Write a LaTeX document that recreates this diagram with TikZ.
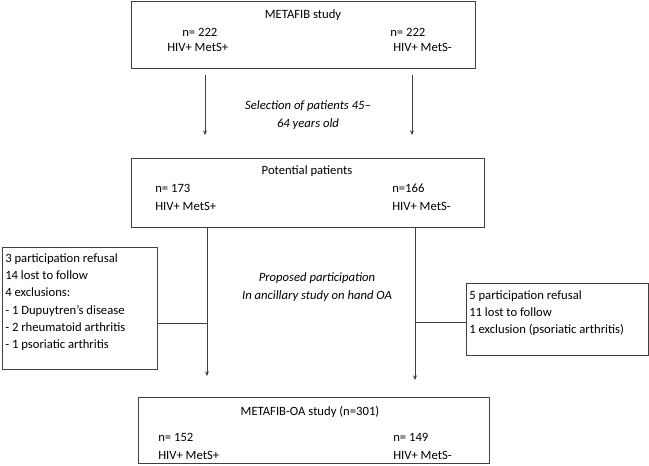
\documentclass[tikz,border=0pt]{standalone}
\usepackage{fontspec}
\setmainfont{Carlito}
\usetikzlibrary{fit,arrows.meta}
\begin{document}
\begin{tikzpicture}[x=0.75pt,y=-0.75pt,
    frame/.style ={draw=black!75, line width=0.75pt, inner sep=0pt},
    entry/.style ={inner sep=0pt, font=\fontsize{9.5}{13}\selectfont},
    note/.style ={entry, align=center, font=\fontsize{9.5}{13}\selectfont\itshape},
    link/.style ={draw=black!75, line width=0.75pt},
    flow/.style ={link, -{Stealth[length=3.5pt,width=3pt]}}]
   \useasboundingbox (0,0) rectangle (649,465);
   % boxes
   \node[frame, fit={(131,1) (475,68)}] (meta) {};
   \node[frame, fit={(131,158) (484,227)}] (potential) {};
   \node[frame, fit={(138,397) (489,463)}] (oa) {};
   \node[frame, fit={(2,247) (157,369)}] (exclleft) {};
   \node[frame, fit={(466,283) (648,355)}] (exclright) {};
   % METAFIB study
   \node[entry] (meta-title) at (303,15) {METAFIB study};
   \node[entry, anchor=west] (meta-n1) at (182,32) {n= 222};
   \node[entry, anchor=west] (meta-g1) at (167,47) {HIV+ MetS+};
   \node[entry, anchor=west] (meta-n2) at (390,32) {n= 222};
   \node[entry, anchor=west] (meta-g2) at (393,47) {HIV+ MetS-};
   % potential patients
   \node[entry] (potential-title) at (307,171) {Potential patients};
   \node[entry, anchor=west] (potential-n1) at (155,188) {n= 173};
   \node[entry, anchor=west] (potential-g1) at (155,206) {HIV+ MetS+};
   \node[entry, anchor=west] (potential-n2) at (392,188) {n=166};
   \node[entry, anchor=west] (potential-g2) at (392,206) {HIV+ MetS-};
   % METAFIB-OA study
   \node[entry] (oa-title) at (310,412) {METAFIB-OA study (n=301)};
   \node[entry, anchor=west] (oa-n1) at (158,437) {n= 152};
   \node[entry, anchor=west] (oa-g1) at (158,455) {HIV+ MetS+};
   \node[entry, anchor=west] (oa-n2) at (393,437) {n= 149};
   \node[entry, anchor=west] (oa-g2) at (393,455) {HIV+ MetS-};
   % exclusions
   \node[entry, anchor=west, align=left] (exclleft-text) at (5,302) {3 participation refusal\\14 lost to follow\\4 exclusions:\\- 1 Dupuytren’s disease\\- 2 rheumatoid arthritis\\- 1 psoriatic arthritis};
   \node[entry, anchor=west, align=left] (exclright-text) at (469,313) {5 participation refusal\\11 lost to follow\\1 exclusion (psoriatic arthritis)};
   % notes
   \node[note] (selection) at (308,115) {Selection of patients 45--\\64 years old};
   \node[note] (proposed) at (317,287) {Proposed participation\\In ancillary study on hand OA};
   % connectors
   \coordinate (s1) at (205,75);
   \coordinate (t1) at (205,135);
   \coordinate (s2) at (412,75);
   \coordinate (t2) at (412,135);
   \coordinate (j1) at (207,323);
   \coordinate (e1) at (207,376);
   \coordinate (j2) at (415,322);
   \coordinate (e2) at (415,380);
   \draw[flow] (s1) -- (t1);
   \draw[flow] (s2) -- (t2);
   \draw[flow] (potential.south -| j1) -- (e1);
   \draw[flow] (potential.south -| j2) -- (e2);
   \draw[link] (exclleft.east |- j1) -- (j1);
   \draw[link] (j2) -- (exclright.west |- j2);
 \end{tikzpicture}
\end{document}
